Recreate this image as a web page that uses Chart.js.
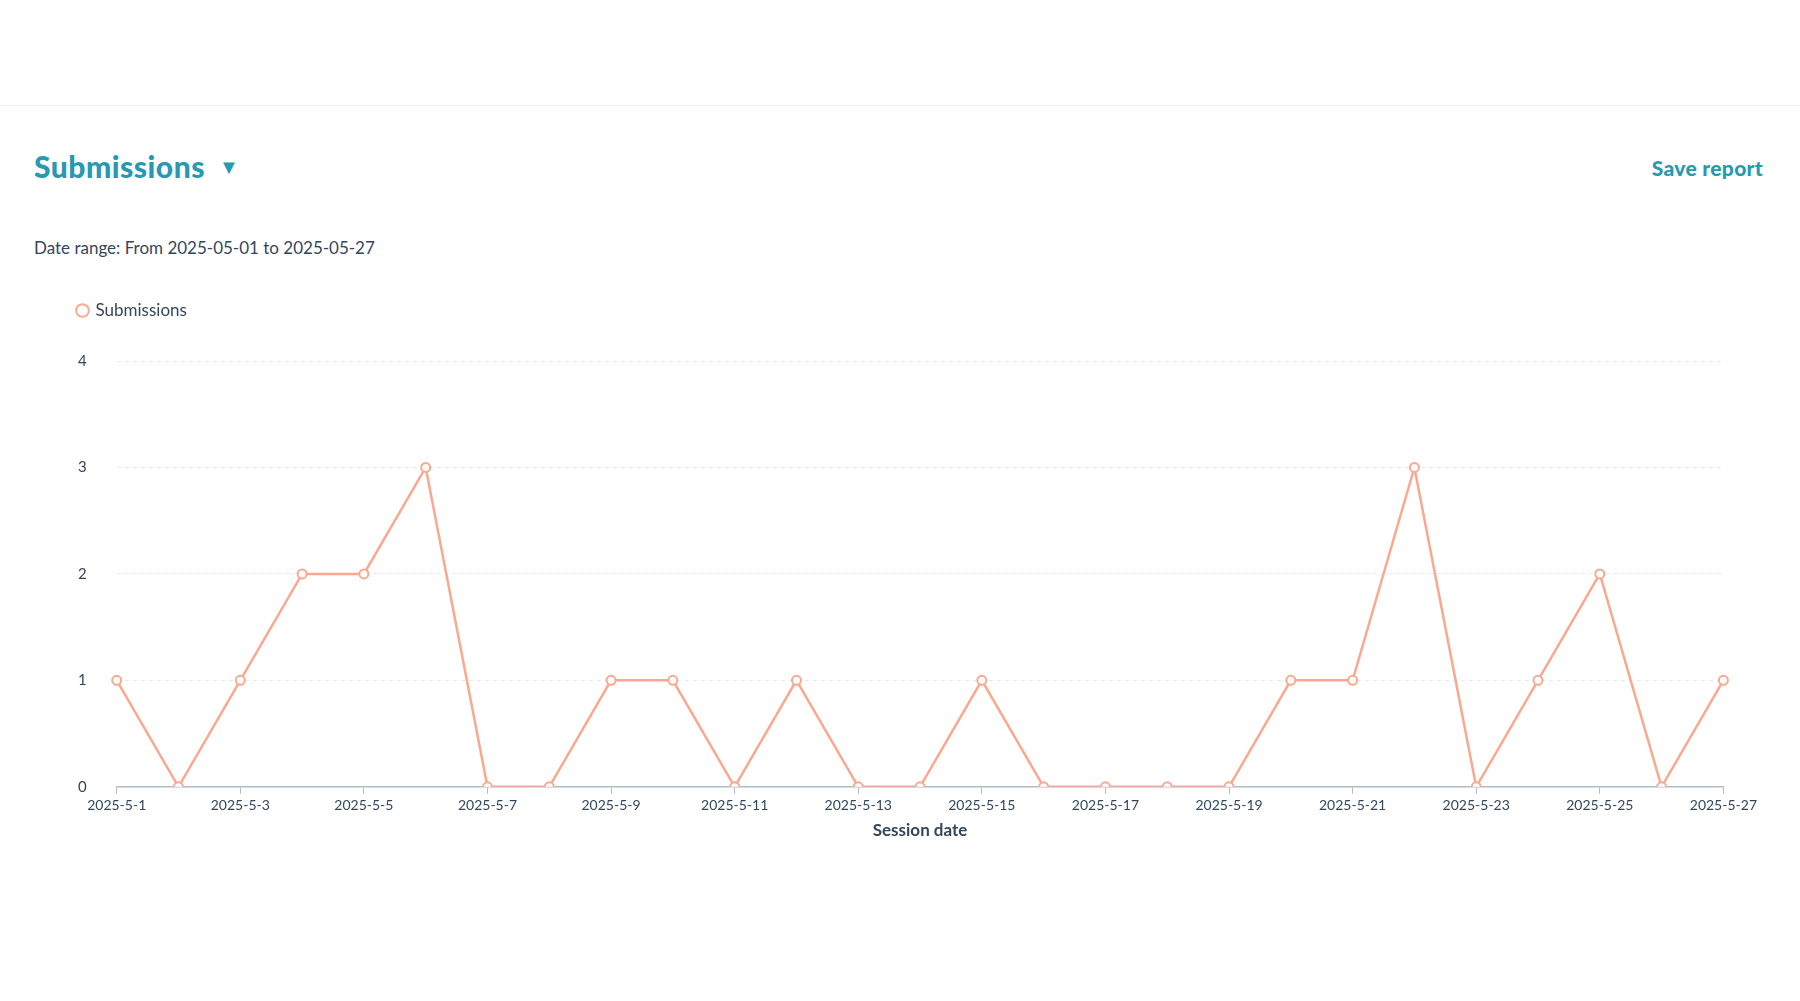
<!DOCTYPE html>
<html>
<head>
<meta charset="utf-8">
<script src="https://cdn.jsdelivr.net/npm/chart.js@4"></script>
<style>
  body { margin: 0; background: #fff; font-family: Lato, "Open Sans", sans-serif; width: 1800px; height: 1001px; position: relative; overflow: hidden; }
  .topline { position: absolute; left: 0; top: 105px; width: 1800px; height: 1px; background: #eef1f4; }
  .title { position: absolute; left: 34px; top: 148px; font-size: 30px; font-weight: 900; color: #2799b3; letter-spacing: 0.5px; }
  .title span { font-size: 20px; margin-left: 14px; vertical-align: 4px; }
  .save { position: absolute; right: 37px; top: 155px; font-size: 21px; font-weight: 900; color: #2799b3; letter-spacing: 0.3px; }
  .range { position: absolute; left: 34px; top: 237px; font-size: 17px; color: #33475b; }
  #wrap { position: absolute; left: 34px; top: 272px; width: 1726px; height: 573px; }
</style>
</head>
<body>
<div class="topline"></div>
<div class="title">Submissions<span>&#9660;</span></div>
<div class="save">Save report</div>
<div class="range">Date range: From 2025-05-01 to 2025-05-27</div>
<div id="wrap"><canvas id="chart"></canvas></div>
<script>
const dates = [];
for (let d = 1; d <= 27; d++) dates.push("2025-5-" + d);
const submissions = [1, 0, 1, 2, 2, 3, 0, 0, 1, 1, 0, 1, 0, 0, 1, 0, 0, 0, 0, 1, 1, 3, 0, 1, 2, 0, 1];
const yTicks = [0, 1, 2, 3, 4];

const lineColor = "#f8a98f";
const textColor = "#33475b";

// push the plot down a bit below the legend
const legendGap = {
  id: "legendGap",
  beforeInit(chart) {
    const fit = chart.legend.fit;
    chart.legend.fit = function () {
      fit.bind(chart.legend)();
      this.height += 32;
    };
  }
};

new Chart(document.getElementById("chart"), {
  type: "line",
  data: {
    labels: dates,
    datasets: [{
      label: "Submissions",
      data: submissions,
      borderColor: lineColor,
      backgroundColor: "#fff",
      borderWidth: 2.5,
      pointRadius: 4.5,
      pointBorderWidth: 2,
      pointBackgroundColor: "#fff",
      tension: 0
    }]
  },
  options: {
    responsive: true,
    maintainAspectRatio: false,
    animation: false,
    layout: { padding: { left: 14, right: 16 } },
    plugins: {
      legend: {
        align: "start",
        labels: {
          usePointStyle: true,
          pointStyle: "circle",
          boxWidth: 9,
          boxHeight: 9,
          color: textColor,
          font: { size: 17, family: "Lato" },
          padding: 30
        }
      },
      tooltip: { enabled: false }
    },
    scales: {
      x: {
        offset: false,
        grid: { drawOnChartArea: false, color: "#b0bccb", tickLength: 7 },
        border: { color: "#b0bccb", width: 1.5 },
        ticks: {
          color: textColor,
          font: { size: 14, family: "Lato" },
          maxRotation: 0,
          autoSkip: false,
          callback: (v, i) => i % 2 === 0 ? dates[i] : null
        },
        title: {
          display: true,
          text: "Session date",
          color: textColor,
          font: { size: 17, weight: "bold", family: "Lato" },
          padding: { top: 4 }
        }
      },
      y: {
        min: yTicks[0],
        max: yTicks[yTicks.length - 1],
        afterBuildTicks: axis => { axis.ticks = yTicks.map(v => ({ value: v })); },
        grid: { color: "#e6eaee", drawTicks: false },
        border: { display: false, dash: [4, 4] },
        ticks: {
          color: textColor,
          font: { size: 15, family: "Lato" },
          padding: 30
        }
      }
    }
  },
  plugins: [legendGap]
});
</script>
</body>
</html>
